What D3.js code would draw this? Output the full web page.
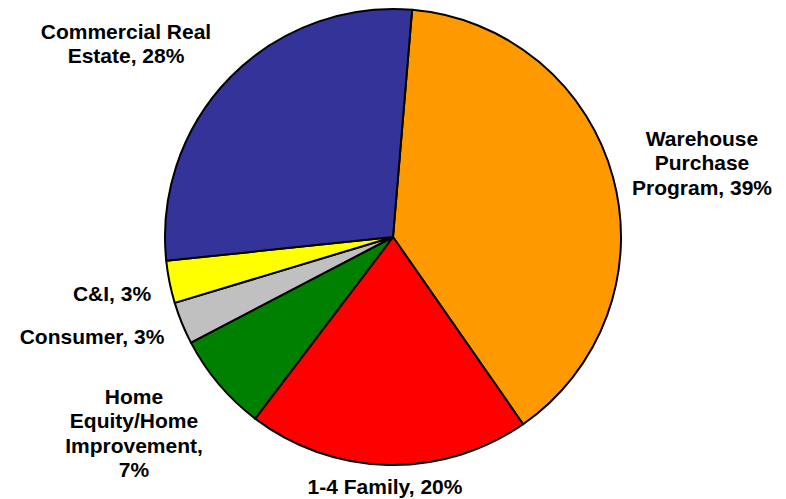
<!DOCTYPE html>
<html>
<head>
<meta charset="utf-8">
<script src="https://cdn.jsdelivr.net/npm/d3@7"></script>
<style>
  html, body { margin: 0; padding: 0; background: #fff; }
  svg { display: block; }
  text { font-family: "Liberation Sans", Arial, sans-serif; font-weight: bold; font-size: 21px; fill: #000; }
</style>
</head>
<body>
<svg id="chart" width="786" height="499"></svg>
<script>
// Loan portfolio composition (percent of total)
const categories = ["Warehouse Purchase Program", "1-4 Family", "Home Equity/Home Improvement", "Consumer", "C&I", "Commercial Real Estate"];
const values = [39, 20, 7, 3, 3, 28];
const colors = ["#FF9900", "#FF0000", "#008000", "#C0C0C0", "#FFFF00", "#333399"];

// Label lines and anchor positions for each slice
const labelLines = [
  ["Warehouse", "Purchase", "Program, 39%"],
  ["1-4 Family, 20%"],
  ["Home", "Equity/Home", "Improvement,", "7%"],
  ["Consumer, 3%"],
  ["C&I, 3%"],
  ["Commercial Real", "Estate, 28%"]
];
const labelPos = [[702, 140], [385, 488], [134, 398], [92, 338], [112, 295], [126, 33]];

const svg = d3.select("#chart");
const cx = 393, cy = 237, r = 228;
const startAngle = 4.8 * Math.PI / 180;

const pie = d3.pie().sort(null).value(d => d)
  .startAngle(startAngle).endAngle(startAngle + 2 * Math.PI);
const arc = d3.arc().innerRadius(0).outerRadius(r);

const g = svg.append("g").attr("transform", `translate(${cx},${cy})`);
g.selectAll("path")
  .data(pie(values))
  .join("path")
  .attr("d", arc)
  .attr("fill", (d, i) => colors[i])
  .attr("stroke", "#000")
  .attr("stroke-width", 2)
  .attr("stroke-linejoin", "round");

const labels = svg.append("g");
labelLines.forEach((lines, i) => {
  const t = labels.append("text")
    .attr("text-anchor", "middle")
    .attr("x", labelPos[i][0])
    .attr("y", labelPos[i][1])
    .attr("dominant-baseline", "middle");
  lines.forEach((ln, j) => {
    t.append("tspan")
      .attr("x", labelPos[i][0])
      .attr("dy", j === 0 ? 0 : 24.3)
      .text(ln);
  });
});
</script>
</body>
</html>
